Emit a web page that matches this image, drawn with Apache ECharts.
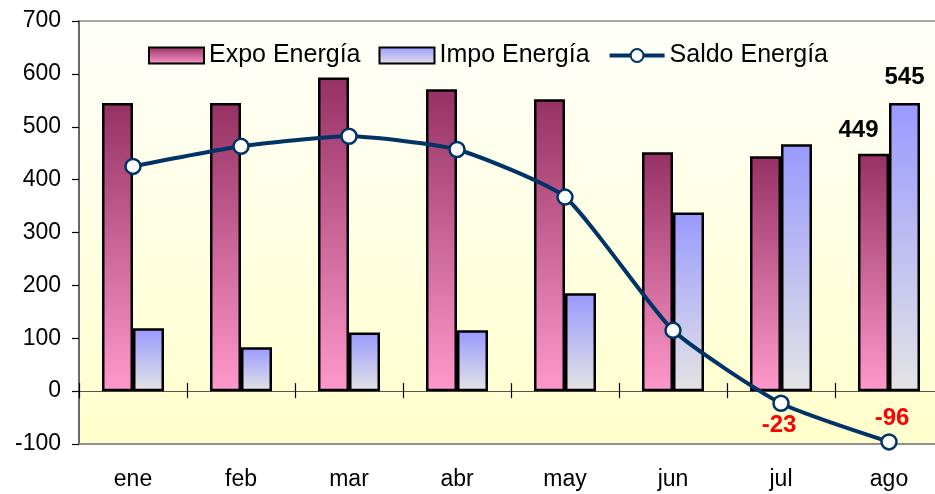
<!DOCTYPE html>
<html>
<head>
<meta charset="utf-8">
<script src="https://cdn.jsdelivr.net/npm/echarts@6/dist/echarts.min.js"></script>
<style>html,body{margin:0;padding:0;background:#fff}#c{width:935px;height:494px}</style>
</head>
<body>
<div id="c"></div>
<script>
var categories = ['ene','feb','mar','abr','may','jun','jul','ago'];
var expo = [545, 545, 593, 571, 552, 452, 444, 449];
var impo = [119, 83, 111, 115, 185, 338, 467, 545];
var saldo = [425, 463, 482, 457, 367, 115, -23, -96];
var seriesNames = ['Expo Energía', 'Impo Energía', 'Saldo Energía'];

var FONT = 'Liberation Sans, Arial, sans-serif';
var chart = echarts.init(document.getElementById('c'));

var expoData = expo.map(function (v, i) {
  if (i === expo.length - 1) {
    return { value: v, label: { show: true, position: 'top', distance: 10, offset: [-15, -1], fontSize: 24, fontWeight: 'bold', color: '#000', fontFamily: FONT } };
  }
  return v;
});
var impoData = impo.map(function (v, i) {
  if (i === impo.length - 1) {
    return { value: v, label: { show: true, position: 'top', distance: 14, offset: [0, 0], fontSize: 24, fontWeight: 'bold', color: '#000', fontFamily: FONT } };
  }
  return v;
});
var saldoData = saldo.map(function (v, i) {
  if (v < 0) {
    var lbl = i === saldo.length - 1
      ? { show: true, position: 'top', distance: 3, offset: [3, 0] }
      : { show: true, position: 'bottom', distance: 1, offset: [-2, 0] };
    lbl.fontSize = 24; lbl.fontWeight = 'bold'; lbl.color = '#ff0000'; lbl.fontFamily = FONT;
    return { value: v, label: lbl };
  }
  return v;
});

var ZERO_OFFSET = -423 / 8; // place tick axes on the zero line

var option = {
  animation: false,
  textStyle: { fontFamily: FONT },
  grid: {
    left: 79, top: 21, width: 864, height: 423,
    outerBoundsMode: 'none',
    containLabel: false,
    show: true,
    borderColor: '#8a8a8a', borderWidth: 1.5,
    backgroundColor: new echarts.graphic.LinearGradient(0, 0, 0, 1, [
      { offset: 0, color: '#fffffb' },
      { offset: 0.875, color: '#ffffd2' },
      { offset: 1, color: '#ffffcc' }
    ])
  },
  legend: {
    left: 143, top: 38,
    itemWidth: 55, itemHeight: 16, itemGap: 18,
    textStyle: { fontSize: 25, color: '#000', fontFamily: FONT },
    data: [
      { name: seriesNames[0], icon: 'rect' },
      { name: seriesNames[1], icon: 'rect' },
      { name: seriesNames[2], lineStyle: { width: 4 } }
    ]
  },
  xAxis: [
    {
      type: 'category', data: categories, position: 'bottom',
      axisLine: { onZero: false, show: true, lineStyle: { color: '#8a8a8a', width: 1.5 } },
      axisTick: { show: false },
      axisLabel: { fontSize: 23, color: '#000', margin: 24, fontFamily: FONT }
    },
    {
      type: 'category', data: categories, position: 'bottom', offset: ZERO_OFFSET,
      axisLine: { onZero: false, show: true, lineStyle: { color: '#555', width: 1.2 } },
      axisTick: { show: true, inside: true, length: 8, lineStyle: { color: '#000', width: 1.2 } },
      axisLabel: { show: false }
    },
    {
      type: 'category', data: categories, position: 'bottom', offset: ZERO_OFFSET,
      axisLine: { onZero: false, show: false },
      axisTick: { show: true, inside: false, length: 7, lineStyle: { color: '#000', width: 1.2 } },
      axisLabel: { show: false }
    }
  ],
  yAxis: {
    type: 'value', min: -100, max: 700, interval: 100,
    axisLine: { show: true, onZero: false, lineStyle: { color: '#555', width: 1.5 } },
    axisTick: { show: true, length: 7, lineStyle: { color: '#000', width: 1.2 } },
    splitLine: { show: false },
    axisLabel: { fontSize: 23, color: '#000', margin: 18, fontFamily: FONT }
  },
  series: [
    {
      name: seriesNames[0], type: 'bar', xAxisIndex: 0, data: expoData,
      barWidth: 31, barGap: '0%',
      itemStyle: {
        borderColor: '#000', borderWidth: 2.5,
        color: new echarts.graphic.LinearGradient(0, 0, 0, 1, [
          { offset: 0, color: '#963263' },
          { offset: 1, color: '#ff99cc' }
        ])
      }
    },
    {
      name: seriesNames[1], type: 'bar', xAxisIndex: 0, data: impoData,
      barWidth: 31, barGap: '0%',
      itemStyle: {
        borderColor: '#000', borderWidth: 2.5,
        color: new echarts.graphic.LinearGradient(0, 0, 0, 1, [
          { offset: 0, color: '#9999ff' },
          { offset: 1, color: '#e4e4e4' }
        ])
      }
    },
    {
      name: seriesNames[2], type: 'line', xAxisIndex: 0, data: saldoData,
      smooth: 0.18,
      lineStyle: { color: '#003366', width: 4 },
      symbol: 'circle', symbolSize: 15,
      itemStyle: { color: '#ffffff', borderColor: '#003366', borderWidth: 2.5 },
      z: 5
    }
  ]
};
chart.setOption(option);
</script>
</body>
</html>
